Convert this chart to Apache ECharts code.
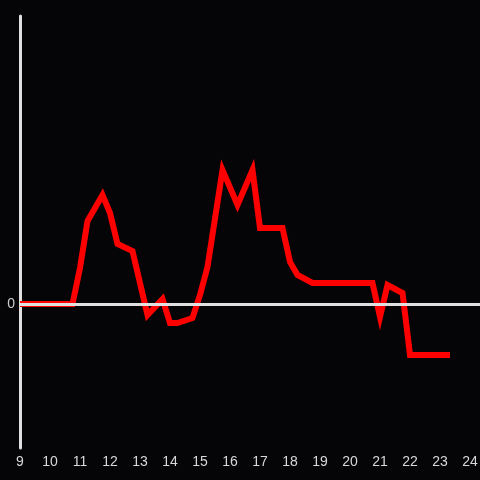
<!DOCTYPE html>
<html>
<head>
<meta charset="utf-8">
<script src="https://cdn.jsdelivr.net/npm/echarts@6/dist/echarts.min.js"></script>
<style>
html,body{margin:0;padding:0;background:#050407;}
#chart{width:480px;height:480px;}
</style>
</head>
<body>
<div id="chart"></div>
<script>
const hours = [9, 10.75, 11, 11.25, 11.75, 12, 12.25, 12.75, 13, 13.25, 13.75, 14, 14.25, 14.75, 15, 15.25, 15.75, 16.25, 16.75, 17, 17.75, 18, 18.25, 18.75, 20.75, 21, 21.25, 21.75, 22, 23.333];
const values = [0, 0, 36, 83, 109, 91, 60, 53, 21, -11, 5, -19, -19, -14, 9, 37, 134, 99, 134, 76, 76, 42, 29, 21, 21, -13, 19, 11, -51, -51];
const xTicks = [9, 10, 11, 12, 13, 14, 15, 16, 17, 18, 19, 20, 21, 22, 23, 24];
const yTicks = [0];

const data = hours.map((h, i) => [h, values[i]]);
const chart = echarts.init(document.getElementById('chart'), null, {renderer: 'canvas'});
chart.setOption({
  backgroundColor: '#050407',
  animation: false,
  grid: {left: 20, right: 0, top: 16, bottom: 32, containLabel: false, outerBoundsMode: 'none'},
  xAxis: {
    type: 'value', min: 9, max: 24.333, interval: 1,
    axisLine: {show: false},
    axisTick: {show: false},
    splitLine: {show: false},
    axisLabel: {
      color: '#d8d8d8', fontSize: 14, fontFamily: 'Liberation Sans', margin: 7,
      hideOverlap: false,
      formatter: v => xTicks.includes(Math.round(v * 1000) / 1000) ? String(v) : ''
    }
  },
  yAxis: {
    type: 'value', min: -144, max: 288, interval: 144,
    axisLine: {show: true, lineStyle: {color: '#e0e0e0', width: 3}},
    axisTick: {show: false},
    splitLine: {show: false},
    axisLabel: {
      color: '#cfcfcf', fontSize: 14, fontFamily: 'Liberation Sans', margin: 5,
      formatter: v => yTicks.includes(v) ? String(v) : ''
    }
  },
  series: [{
    type: 'line',
    data: data,
    symbol: 'none',
    lineStyle: {color: '#ff0000', width: 6, join: 'miter'},
    markLine: {
      silent: true, symbol: 'none', label: {show: false},
      lineStyle: {color: '#e0e0e0', width: 3, type: 'solid'},
      data: [{yAxis: 0}]
    },
    z: 3
  }]
});
</script>
</body>
</html>
